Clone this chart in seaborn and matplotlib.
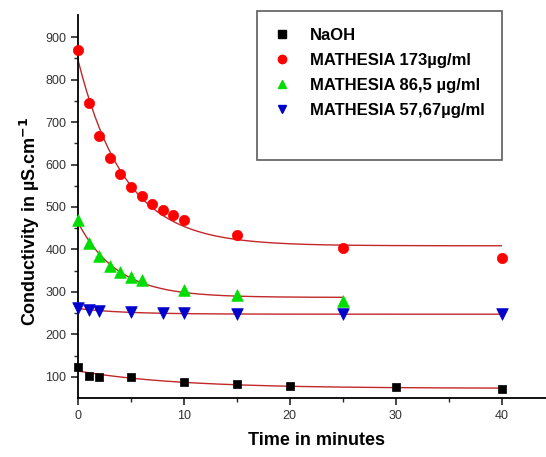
import numpy as np
import pandas as pd
import seaborn as sns
import matplotlib.pyplot as plt
from matplotlib.lines import Line2D

# Valeurs (temps en minutes, conductivite en uS/cm)
naoh_t = [0, 1, 2, 5, 10, 15, 20, 30, 40]
naoh_c = [122, 103, 100, 100, 88, 82, 78, 75, 72]

m173_t = [0, 1, 2, 3, 4, 5, 6, 7, 8, 9, 10, 15, 25, 40]
m173_c = [870, 745, 668, 615, 577, 548, 525, 508, 492, 482, 470, 433, 403, 381]

m86_t = [0, 1, 2, 3, 4, 5, 6, 10, 15, 25]
m86_c = [470, 415, 385, 362, 347, 335, 327, 305, 292, 278]

m57_t = [0, 1, 2, 5, 8, 10, 15, 25, 40]
m57_c = [262, 257, 255, 252, 250, 250, 248, 247, 247]

labels = ['NaOH', 'MATHESIA 173µg/ml', 'MATHESIA 86,5 µg/ml', 'MATHESIA 57,67µg/ml']
colors = ['black', '#ff0000', '#00dd00', '#0000cc']
markers = ['s', 'o', '^', 'v']
sizes = [40, 55, 70, 70]
fit_color = '#c0282a'


def exp_fit(t, c):
    # ajustement y = y0 + A*exp(-t/tau), recherche de tau sur une grille
    t = np.asarray(t, float)
    c = np.asarray(c, float)
    best = None
    for tau in np.linspace(0.3, 40, 800):
        M = np.column_stack([np.ones_like(t), np.exp(-t / tau)])
        coef, *_ = np.linalg.lstsq(M, c, rcond=None)
        err = np.sum((M @ coef - c) ** 2)
        if best is None or err < best[0]:
            best = (err, coef, tau)
    _, (y0, A), tau = best
    tt = np.linspace(0, t.max(), 200)
    return tt, y0 + A * np.exp(-tt / tau)


sns.set_style('ticks')
plt.rcParams['font.family'] = ['Liberation Sans', 'DejaVu Sans']
plt.rcParams['text.color'] = 'black'
plt.rcParams['axes.labelcolor'] = 'black'

fig = plt.figure(figsize=(5.46, 4.57), dpi=100)
ax = fig.add_axes([0.143, 0.129, 0.857, 0.838])

series = [(naoh_t, naoh_c), (m173_t, m173_c), (m86_t, m86_c), (m57_t, m57_c)]
handles = []
for (t, c), lab, col, mk, sz in zip(series, labels, colors, markers, sizes):
    tt, yy = exp_fit(t, c)
    sns.lineplot(x=tt, y=yy, ax=ax, color=fit_color, linewidth=1.0)
    df = pd.DataFrame({'t': t, 'c': c})
    sns.scatterplot(data=df, x='t', y='c', ax=ax, color=col, marker=mk,
                    s=sz, edgecolor=col, linewidth=0.5, clip_on=False, zorder=3)
    handles.append(Line2D([], [], linestyle='none', marker=mk, color=col,
                          markersize=6, label=lab))
handles.append(Line2D([], [], linestyle='none', label=' '))

ax.set_xlim(0, 44.2)
ax.set_ylim(50, 952)
ax.set_xticks([0, 10, 20, 30, 40])
ax.set_xticks([5, 15, 25, 35], minor=True)
ax.set_yticks(range(100, 1000, 100))
ax.set_yticks(range(150, 950, 100), minor=True)
ax.tick_params(which='major', direction='out', length=5, width=1.2, labelsize=9,
               labelcolor='#333333')
ax.tick_params(which='minor', direction='out', length=3, width=1.0)
sns.despine(ax=ax)
for sp in ['left', 'bottom']:
    ax.spines[sp].set_linewidth(1.3)
    ax.spines[sp].set_color('black')

ax.set_xlabel('Time in minutes', fontsize=13, fontweight='bold')
ax.xaxis.set_label_coords(0.51, -0.088)
ax.set_ylabel('Conductivity in µS.cm$^{\\mathbf{-1}}$', fontsize=13,
              fontweight='bold')
ax.yaxis.set_label_coords(-0.078, 0.46)

leg = ax.legend(handles=handles, loc='upper left', bbox_to_anchor=(0.382, 1.01),
                frameon=True, fancybox=False,
                prop={'weight': 'bold', 'size': 12}, handlelength=1.0,
                handletextpad=1.2, borderpad=1.0, labelspacing=0.6,
                borderaxespad=0)
leg.get_frame().set_edgecolor('#333333')
leg.get_frame().set_linewidth(1.2)

fig.savefig('out.png', dpi=100)
